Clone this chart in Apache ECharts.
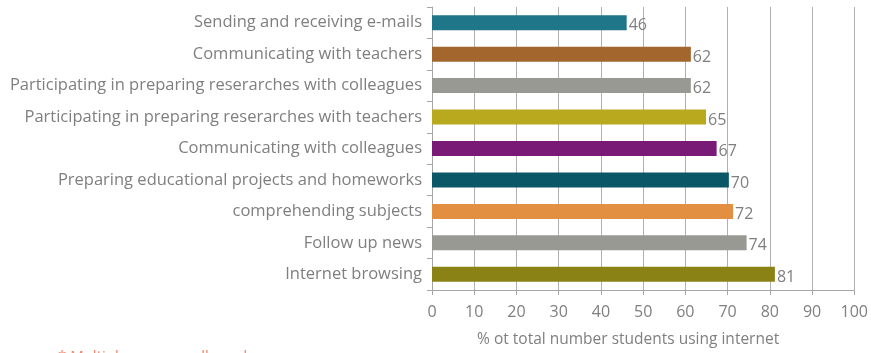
<!DOCTYPE html>
<html><head><meta charset="utf-8">
<script src="https://cdn.jsdelivr.net/npm/echarts@6/dist/echarts.min.js"></script>
<style>html,body{margin:0;padding:0;background:#fff}#c{width:871px;height:353px}</style>
</head><body><div id="c"></div>
<script>
const categories = [
  "Sending and receiving e-mails",
  "Communicating with teachers",
  "Participating in preparing reserarches with colleagues",
  "Participating in preparing reserarches with teachers",
  "Communicating with colleagues",
  "Preparing educational projects and homeworks",
  "comprehending subjects",
  "Follow up news",
  "Internet browsing"
];
const values = [46.1, 61.3, 61.3, 64.9, 67.4, 70.3, 71.3, 74.5, 81.2];
const valueLabels = ["46", "62", "62", "65", "67", "70", "72", "74", "81"];
const barColors = ["#1f7688", "#a3662c", "#999994", "#b8a91e", "#791a76", "#0b5768", "#e28f42", "#999994", "#8b8215"];
const xTicks = [0, 10, 20, 30, 40, 50, 60, 70, 80, 90, 100];
const xTitle = "% ot total number students using internet";
const footnote = "* Multiple answers allowed";

const FONT = "Open Sans";
const chart = echarts.init(document.getElementById('c'), null, {renderer: 'canvas'});
chart.setOption({
  animation: false,
  grid: {left: 432, right: 12, top: 7, bottom: 61, containLabel: false},
  xAxis: {
    type: 'value', min: xTicks[0], max: xTicks[xTicks.length - 1], interval: 10,
    name: xTitle, nameLocation: 'middle', nameGap: 42,
    nameTextStyle: {color: '#7f7f7f', fontSize: 15.5, fontFamily: FONT, padding: [0, 30, 0, 0]},
    axisLine: {show: true, lineStyle: {color: '#a6a6a6', width: 1}},
    axisTick: {show: true, length: 5, lineStyle: {color: '#a6a6a6'}},
    axisLabel: {color: '#7f7f7f', fontSize: 16, fontFamily: FONT, margin: 14},
    splitLine: {show: true, lineStyle: {color: '#b0b0b0', width: 1}}
  },
  yAxis: {
    type: 'category', data: categories, inverse: true,
    axisLine: {show: true, lineStyle: {color: '#a6a6a6', width: 1}},
    axisTick: {show: true, length: 5, lineStyle: {color: '#a6a6a6'}},
    axisLabel: {color: '#7f7f7f', fontSize: 16.5, fontFamily: FONT, margin: 10}
  },
  series: [{
    type: 'bar', barWidth: 15,
    data: values.map((v, i) => ({value: v, itemStyle: {color: barColors[i]}})),
    label: {
      show: true, position: 'right', distance: 2,
      color: '#7f7f7f', fontSize: 16, fontFamily: FONT,
      formatter: p => valueLabels[p.dataIndex], offset: [0, 3]
    }
  }],
  graphic: [{
    type: 'text', left: 58, top: 349,
    style: {text: footnote, fill: '#f4836b', font: '15px "Open Sans"'}
  }]
});
</script></body></html>
